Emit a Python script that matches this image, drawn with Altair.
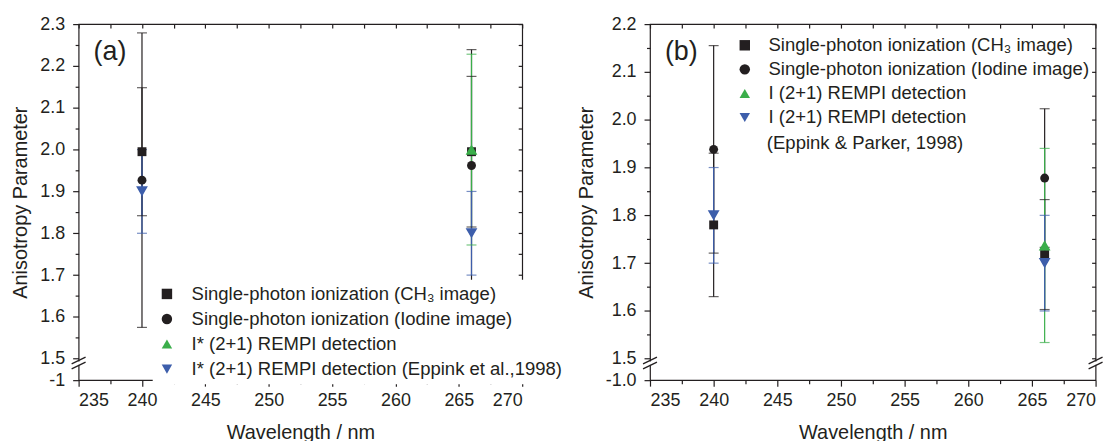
import altair as alt
import pandas as pd

# ---------------- data ----------------
wavelength = [240, 266]
series_keys = ["ch3", "iod", "rempi", "eppink"]

labels_a = ["Single-photon ionization (CH\u2083 image)",
            "Single-photon ionization (Iodine image)",
            "I* (2+1) REMPI detection",
            "I* (2+1) REMPI detection (Eppink et al.,1998)"]
labels_b = ["Single-photon ionization (CH\u2083 image)",
            "Single-photon ionization (Iodine image)",
            "I (2+1) REMPI detection",
            "I (2+1) REMPI detection"]
note_b = "(Eppink & Parker, 1998)"

a_ch3 = [1.995, 1.995];   a_ch3_err = [0.153, 0.180]
a_iod = [1.927, 1.962];   a_iod_err = [0.352, 0.277]
a_rempi = [None, 2.000];  a_rempi_err = [None, 0.228]
a_epp = [1.900, 1.800];   a_epp_err = [0.100, 0.100]

b_ch3 = [1.780, 1.718];   b_ch3_err = [0.150, 0.115]
b_iod = [1.938, 1.878];   b_iod_err = [0.217, 0.145]
b_rempi = [None, 1.737];  b_rempi_err = [None, 0.203]
b_epp = [1.800, 1.700];   b_epp_err = [0.100, 0.100]

x_ticks = [235 + 2.5 * i for i in range(15)]

colors = ["#231f20", "#231f20", "#3aae4a", "#3d5eab"]
shapes = ["square", "circle", "triangle-up", "triangle-down"]
INK = "#231f20"
FONT = "Liberation Sans"


def build_df(vals, errs):
    rows = []
    for key, v, e in zip(series_keys, vals, errs):
        for x, yy, ee in zip(wavelength, v, e):
            if yy is None:
                continue
            rows.append({"key": key, "x": x, "y": yy, "lo": yy - ee, "hi": yy + ee})
    return pd.DataFrame(rows)


df_a = build_df([a_ch3, a_iod, a_rempi, a_epp], [a_ch3_err, a_iod_err, a_rempi_err, a_epp_err])
df_b = build_df([b_ch3, b_iod, b_rempi, b_epp], [b_ch3_err, b_iod_err, b_rempi_err, b_epp_err])

W_A, W_B, H = 446, 448, 358
one = pd.DataFrame({"d": [0]})


def label_expr(labels):
    e = "'" + labels[3].replace("'", "\\'") + "'"
    for k, l in list(zip(series_keys, labels))[2::-1]:
        e = "datum.label == '%s' ? '%s' : (%s)" % (k, l.replace("'", "\\'"), e)
    return e


def panel(df, ytop, width, minus_label, tag, labels, legend_kw, note=None):
    # broken axis: bottom strip (21.5 px) below 1.5 shows the "-1" tick
    ppu = (H - 21.5) / (ytop - 1.5)
    ybot = 1.5 - 21.5 / ppu
    n = int(round((ytop - 1.5) / 0.05))
    y_ticks = [ybot] + [round(1.5 + 0.05 * i, 2) for i in range(n + 1)]

    xs = alt.Scale(domain=[235, 270], nice=False, zero=False)
    ys = alt.Scale(domain=[ybot, ytop], nice=False, zero=False)
    cs = alt.Scale(domain=series_keys, range=colors)
    ss = alt.Scale(domain=series_keys, range=shapes)

    major_y = "abs(datum.value*10 - round(datum.value*10)) < 0.001 || datum.value < 1.49"
    y_left = alt.Axis(orient="left", values=y_ticks, title="Anisotropy Parameter",
                      labelExpr="datum.value < 1.49 ? '%s' : ((abs(datum.value*10 - round(datum.value*10)) < 0.001) ? format(datum.value, '.1f') : '')" % minus_label,
                      tickSize={"condition": {"test": major_y, "value": 6}, "value": 3.5},
                      labelPadding=8, titlePadding=9, domain=False, grid=False)
    x_bottom = alt.Axis(orient="bottom", values=x_ticks, title="Wavelength / nm",
                        labelExpr="datum.value % 5 == 0 ? datum.label : ''",
                        tickSize={"condition": {"test": "datum.value % 5 == 0", "value": 6}, "value": 3.5},
                        labelPadding=5, titlePadding=14, domain=False, grid=False)
    y_right = alt.Axis(orient="right", values=y_ticks[1:], labels=False, title=None,
                       tickSize=4, offset=-4, domain=False, grid=False)
    x_top = alt.Axis(orient="top", values=x_ticks, labels=False, title=None,
                     tickSize=4, offset=-4, domain=False, grid=False)

    base = alt.Chart(df)
    rules = base.mark_rule(strokeWidth=1.2).encode(
        x=alt.X("x:Q", scale=xs, axis=x_bottom),
        y=alt.Y("lo:Q", scale=ys, axis=y_left),
        y2="hi:Q",
        color=alt.Color("key:N", scale=cs, legend=None),
    )
    caps_lo = base.mark_tick(orient="horizontal", size=10, thickness=1.2).encode(
        x=alt.X("x:Q", scale=xs, axis=None),
        y=alt.Y("lo:Q", scale=ys, axis=None),
        color=alt.Color("key:N", scale=cs, legend=None),
    )
    caps_hi = base.mark_tick(orient="horizontal", size=10, thickness=1.2).encode(
        x=alt.X("x:Q", scale=xs, axis=None),
        y=alt.Y("hi:Q", scale=ys, axis=None),
        color=alt.Color("key:N", scale=cs, legend=None),
    )
    leg = alt.Legend(title=None, orient="none", labelFont=FONT, labelFontSize=18.6,
                     labelColor=INK, symbolSize=110, symbolStrokeWidth=0,
                     labelLimit=700, labelExpr=label_expr(labels), **legend_kw)
    points = base.mark_point(filled=True, opacity=1, size=80).encode(
        x=alt.X("x:Q", scale=xs, axis=x_top),
        y=alt.Y("y:Q", scale=ys, axis=y_right),
        color=alt.Color("key:N", scale=cs, legend=leg),
        shape=alt.Shape("key:N", scale=ss, legend=leg),
    )
    tri = base.transform_filter(
        "datum.key == 'rempi' || datum.key == 'eppink'"
    ).mark_point(filled=True, opacity=1, size=140).encode(
        x=alt.X("x:Q", scale=xs, axis=None),
        y=alt.Y("y:Q", scale=ys, axis=None),
        color=alt.Color("key:N", scale=cs, legend=None),
        shape=alt.Shape("key:N", scale=ss, legend=None),
    )

    deco = alt.Chart(one)
    layers = [rules, caps_lo, caps_hi, points, tri]
    for xe in (0, width):
        layers.append(deco.mark_rule(color="white", strokeWidth=3).encode(
            x=alt.value(xe), x2=alt.value(xe), y=alt.value(339.2), y2=alt.value(342.6)))
        layers.append(deco.mark_rule(color=INK, strokeWidth=1.3).encode(
            x=alt.value(xe - 7), x2=alt.value(xe + 7), y=alt.value(341.6), y2=alt.value(334.8)))
        layers.append(deco.mark_rule(color=INK, strokeWidth=1.3).encode(
            x=alt.value(xe - 7), x2=alt.value(xe + 7), y=alt.value(346.6), y2=alt.value(339.8)))
    layers.append(deco.mark_text(text=tag, font=FONT, fontSize=27, color=INK,
                                 align="left", baseline="middle").encode(
        x=alt.value(15), y=alt.value(28)))
    if note is not None:
        layers.append(deco.mark_text(text=note, font=FONT, fontSize=18.6, color=INK,
                                     align="left", baseline="middle").encode(
            x=alt.value(117.5), y=alt.value(120)))

    return alt.layer(*layers).resolve_axis(x="independent", y="independent").resolve_legend(
        color="independent", shape="independent").properties(
        width=width, height=H)


pa = panel(df_a, 2.3, W_A, "-1", "(a)", labels_a,
           dict(legendX=74.5, legendY=257, labelOffset=15.5, rowPadding=6.2,
                fillColor="white", padding=5))
pb = panel(df_b, 2.2, W_B, "-1.0", "(b)", labels_b,
           dict(legendX=86, legendY=12, labelOffset=14.5, rowPadding=5.2, padding=0),
           note=note_b)

chart = alt.hconcat(pa, pb, spacing=128.5, bounds="flush").properties(
    padding={"left": 2, "top": 5, "right": 5, "bottom": 0}, background="white"
).configure_view(stroke=INK, strokeWidth=1.2).configure_axis(
    labelFont=FONT, labelFontSize=18, labelColor=INK,
    titleFont=FONT, titleFontSize=20, titleFontWeight="normal", titleColor=INK,
    tickColor=INK, tickWidth=1.2, grid=False,
)

chart.save("out.html", embed_options={"renderer": "svg", "actions": False})
